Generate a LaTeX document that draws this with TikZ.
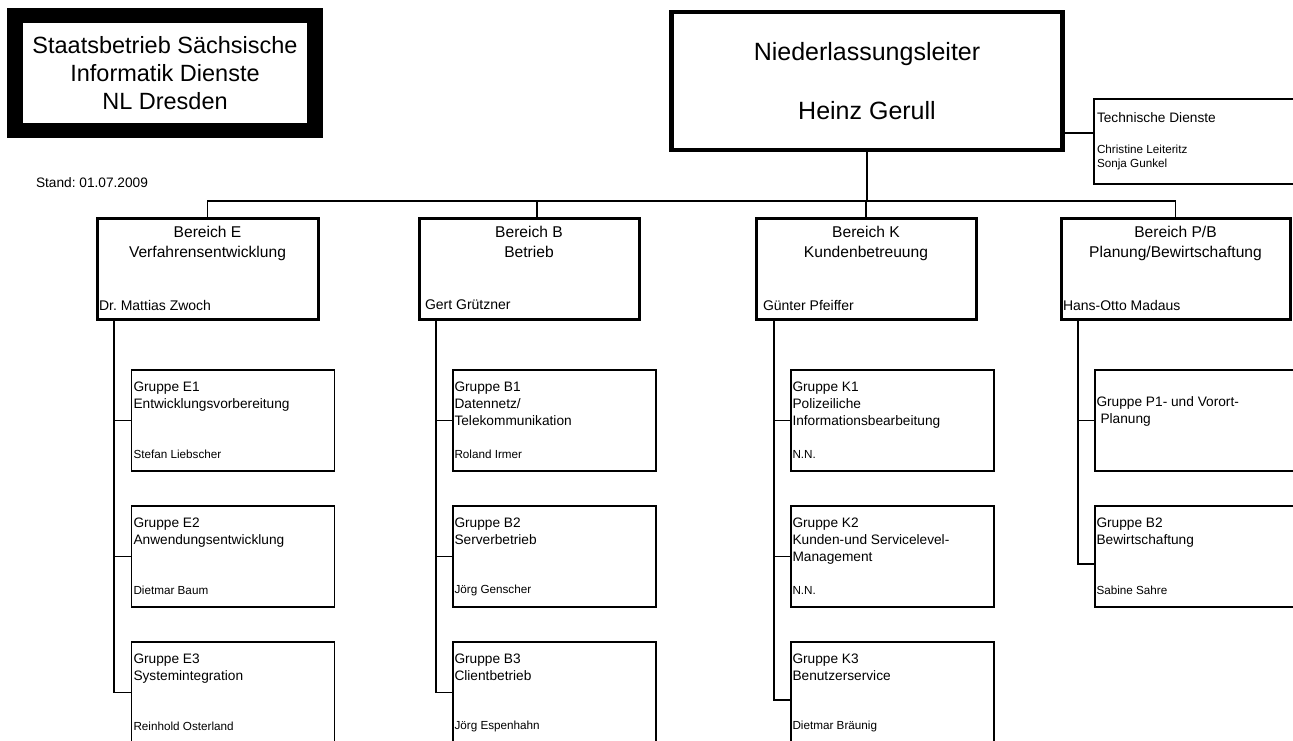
\documentclass[tikz,border=0pt]{standalone}
\usepackage{fontspec}
\setmainfont{Liberation Sans}
\usepackage{tikz}

\newcommand{\fsz}[2]{\fontsize{#1}{#2}\selectfont}
\frenchspacing

\begin{document}
\begin{tikzpicture}[x=1pt, y=-1pt, line width=1.2pt,
  every node/.style={inner sep=0pt, outer sep=0pt},
  bereich/.style={draw, line width=3pt, minimum width=221pt, minimum height=101pt},
  gruppe/.style={draw, line width=1.3pt, minimum width=203pt, minimum height=101pt},
  titel/.style={anchor=north, align=center, font=\fsz{15.6}{20}},
  chef/.style={anchor=west, font=\fsz{14}{16}},
  kopf/.style={anchor=north west, align=left, font=\fsz{13.7}{17}},
  person/.style={anchor=west, font=\fsz{11.7}{14}}]
\useasboundingbox (0,0) rectangle (1293,740);
\clip (0,0) rectangle (1293,740);

\node[draw, line width=15.5pt, minimum width=300pt, minimum height=115pt, align=center, font=\fsz{23.5}{28}] (sn) at (165,73) {Staatsbetrieb Sächsische\\Informatik Dienste\\NL Dresden};
\node[anchor=west, font=\fsz{13.7}{16}] (stand) at (36,183) {Stand: 01.07.2009};

\node[draw, line width=4.5pt, minimum width=391pt, minimum height=138pt, align=center, font=\fsz{25}{59}] (nl) at (867,81) {Niederlassungsleiter\\Heinz Gerull};
\node[draw, line width=1.3pt, minimum width=210pt, minimum height=85pt] (td) at (1199,141.5) {};
\node[anchor=west, font=\fsz{13.7}{16}] (tdk) at (1097,118) {Technische Dienste};
\node[anchor=north west, align=left, font=\fsz{11.7}{14}] (tdn) at (1097,145) {Christine Leiteritz\\Sonja Gunkel};

\node[bereich] (be) at (207.5,268.5) {};
\node[titel] (bek) at (207.5,226) {Bereich E\\Verfahrensentwicklung};
\node[chef] (ben) at (99,305) {Dr. Mattias Zwoch};
\node[bereich, minimum width=220pt] (bb) at (529,268.5) {};
\node[titel] (bbk) at (529,226) {Bereich B\\Betrieb};
\node[chef] (bbn) at (425,305) {Gert Grützner};
\node[bereich, minimum width=220pt] (bk) at (866,268.5) {};
\node[titel] (bkk) at (866,226) {Bereich K\\Kundenbetreuung};
\node[chef] (bkn) at (763,305) {Günter Pfeiffer};
\node[bereich, minimum width=229pt] (bp) at (1175.5,268.5) {};
\node[titel] (bpk) at (1175.5,226) {Bereich P/B\\Planung/Bewirtschaftung};
\node[chef] (bpn) at (1063,305) {Hans-Otto Madaus};

\node[gruppe] (e1) at (233,420.5) {};
\node[kopf] (e1k) at (133.5,382) {Gruppe E1\\Entwicklungsvorbereitung};
\node[person] (e1n) at (133.5,454) {Stefan Liebscher};
\node[gruppe] (e2) at (233,556.5) {};
\node[kopf] (e2k) at (133.5,518) {Gruppe E2\\Anwendungsentwicklung};
\node[person] (e2n) at (133.5,590) {Dietmar Baum};
\node[gruppe] (e3) at (233,692.5) {};
\node[kopf] (e3k) at (133.5,654) {Gruppe E3\\Systemintegration};
\node[person] (e3n) at (133.5,726) {Reinhold Osterland};

\node[gruppe] (b1) at (554.5,420.5) {};
\node[kopf] (b1k) at (454.5,382) {Gruppe B1\\Datennetz/\\Telekommunikation};
\node[person] (b1n) at (454.5,454) {Roland Irmer};
\node[gruppe] (b2) at (554.5,556.5) {};
\node[kopf] (b2k) at (454.5,518) {Gruppe B2\\Serverbetrieb};
\node[person] (b2n) at (454.5,590) {Jörg Genscher};
\node[gruppe] (b3) at (554.5,692.5) {};
\node[kopf] (b3k) at (454.5,654) {Gruppe B3\\Clientbetrieb};
\node[person] (b3n) at (454.5,726) {Jörg Espenhahn};

\node[gruppe] (k1) at (892.5,420.5) {};
\node[kopf] (k1k) at (792.5,382) {Gruppe K1\\Polizeiliche\\Informationsbearbeitung};
\node[person] (k1n) at (792.5,454) {N.N.};
\node[gruppe] (k2) at (892.5,556.5) {};
\node[kopf] (k2k) at (792.5,518) {Gruppe K2\\Kunden-und Servicelevel-\\Management};
\node[person] (k2n) at (792.5,590) {N.N.};
\node[gruppe] (k3) at (892.5,692.5) {};
\node[kopf] (k3k) at (792.5,654) {Gruppe K3\\Benutzerservice};
\node[person] (k3n) at (792.5,726) {Dietmar Bräunig};

\node[gruppe] (p1) at (1196.5,420.5) {};
\node[kopf] (p1k) at (1096.5,397) {Gruppe P1- und Vorort-\\\hspace{4pt}Planung};
\node[gruppe] (p2) at (1196.5,556.5) {};
\node[kopf] (p2k) at (1096.5,518) {Gruppe B2\\Bewirtschaftung};
\node[person] (p2n) at (1096.5,590) {Sabine Sahre};

\coordinate (bus) at (867,201);
\draw (nl.south) -- (nl.south |- bus);
\draw (be.north) |- (bus) -| (bp.north);
\draw ([xshift=8pt]bb.north) coordinate (bbo) -- (bbo |- bus);
\draw (bk.north) -- (bk.north |- bus);
\draw ([yshift=-52pt]nl.east) coordinate (nlo) -- (nlo -| td.west);

\draw ([xshift=17pt]be.south west) coordinate (es) |- (e3.west);
\draw (e1.west) -- (e1.west -| es);
\draw (e2.west) -- (e2.west -| es);
\draw ([xshift=17pt]bb.south west) coordinate (bs) |- (b3.west);
\draw (b1.west) -- (b1.west -| bs);
\draw (b2.west) -- (b2.west -| bs);
\draw ([xshift=18pt]bk.south west) coordinate (ks) |- ([yshift=-7.5pt]k3.west);
\draw (k1.west) -- (k1.west -| ks);
\draw (k2.west) -- (k2.west -| ks);
\draw ([xshift=17pt]bp.south west) coordinate (ps) |- ([yshift=-7.5pt]p2.west);
\draw (p1.west) -- (p1.west -| ps);
\end{tikzpicture}
\end{document}
